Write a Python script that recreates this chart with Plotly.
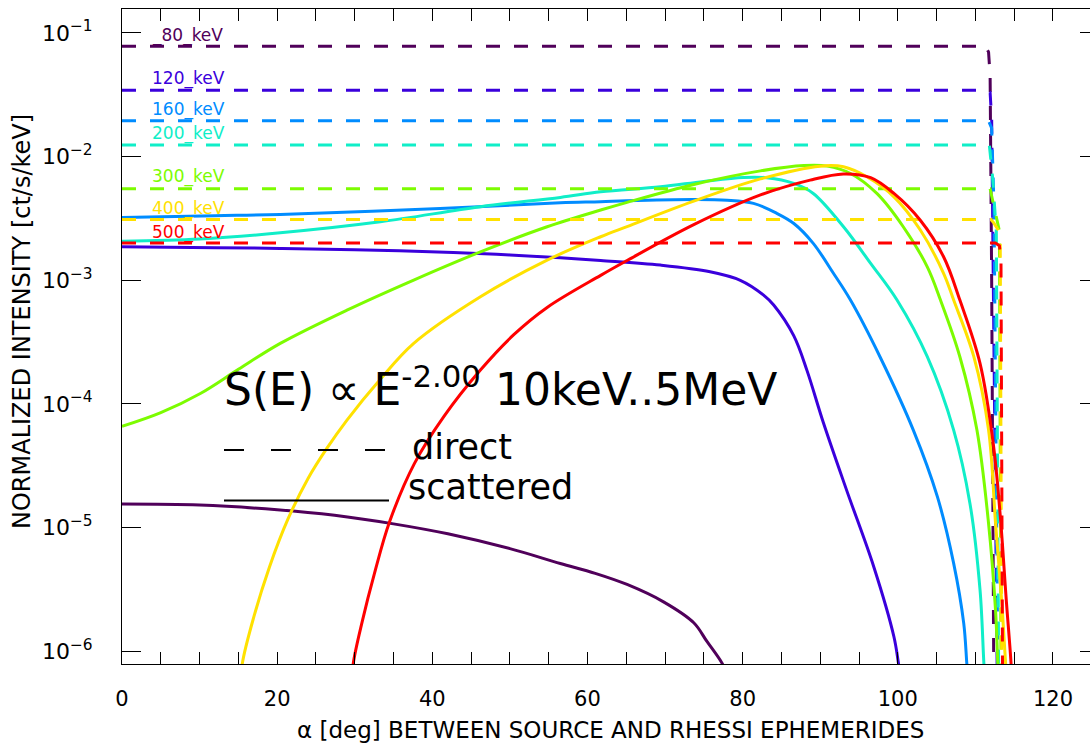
import plotly.graph_objects as go

# ---- data -------------------------------------------------------------
energies = ["80", "120", "160", "200", "300", "400", "500"]  # keV
colors = ["#50005A", "#3A00DC", "#008CFF", "#10EEC8", "#7CFC00", "#FFE100", "#FF0000"]

# direct (unscattered) intensity vs. angle
direct_x = {
    "80":  [0, 111.3, 111.7, 111.9, 112.1, 112.3, 112.4],
    "120": [0, 111.4, 111.9, 112.1, 112.8, 112.9],
    "160": [0, 111.7, 112.1, 112.4, 112.9, 113.0],
    "200": [0, 111.8, 112.2, 112.7, 113.0, 113.1],
    "300": [0, 111.9, 112.2, 113.1, 113.3, 113.4],
    "400": [0, 112.0, 112.4, 113.2, 113.4, 113.5],
    "500": [0, 112.6, 113.1, 113.3, 113.5, 113.6],
}
direct_y = {
    "80":  [0.078, 0.078, 0.070, 0.045, 1e-3, 8e-7, 3e-7],
    "120": [0.0345, 0.0345, 0.033, 0.020, 8e-7, 3e-7],
    "160": [0.0195, 0.0195, 0.017, 0.004, 7e-7, 3e-7],
    "200": [0.0124, 0.0124, 0.007, 0.0025, 7e-7, 3e-7],
    "300": [0.0055, 0.0055, 0.0045, 0.0025, 7e-7, 3e-7],
    "400": [0.0031, 0.0031, 0.0029, 0.0024, 7e-7, 3e-7],
    "500": [0.0020, 0.0020, 0.0019, 0.0015, 7e-7, 3e-7],
}

# scattered intensity vs. angle
scat_x = {
    "80":  [0, 10, 20, 27.4, 35, 42, 50, 56.5, 61, 65.1, 69.8, 73.7, 75.4, 77.4, 78.5],
    "120": [0, 12, 20.4, 30, 42.7, 50, 56.5, 61.7, 69.4, 75.8, 79.7, 82.7, 84, 86.6,
            88.3, 90.4, 93.4, 96.9, 99.5, 100.1, 100.6],
    "160": [0, 12, 20.4, 41.0, 56.5, 61.7, 65, 73.7, 78, 81.4, 84.4, 86.6, 89.1, 91.7,
            93.9, 97.7, 102, 105.1, 107.2, 108.5, 108.9, 109.2],
    "200": [0, 10, 20.4, 33.3, 46.2, 56.5, 61.7, 69.4, 75, 80.1, 83.1, 86.6, 89.1, 93,
            96.5, 99.9, 103.8, 107.2, 109.3, 110.6, 111.1, 111.4],
    "300": [0, 5, 10.1, 15, 20.4, 29, 37.6, 46.2, 54.8, 61.7, 65.1, 73.7, 82.3, 87.9,
            90.9, 93.9, 97.3, 100.7, 103.8, 105.5, 108, 110.2, 111.7, 112.6, 112.9, 113.2],
    "400": [15.3, 15.5, 17, 19, 21.4, 24, 26.4, 29, 33.3, 37.6, 46.2, 54.8, 61.7, 65.1,
            73.7, 82.3, 90, 93, 96, 99.5, 102.9, 105.9, 107.2, 109.8, 111.7, 112.6, 113.4,
            113.9, 114.1],
    "500": [29.6, 29.8, 31, 32.5, 34.5, 37.7, 41.5, 46.2, 50.5, 54.8, 61.7, 65.1, 73.7,
            82.3, 88.7, 93, 96.5, 99.5, 102.9, 105.9, 108, 110.6, 112.3, 113.2, 114.0,
            114.6, 114.8],
}
scat_y = {
    "80":  [1.549e-5, 1.52e-5, 1.396e-5, 1.259e-5, 1.072e-5, 8.91e-6, 6.76e-6, 5.13e-6,
            4.27e-6, 3.47e-6, 2.51e-6, 1.70e-6, 1.20e-6, 7.9e-7, 5.6e-7],
    "120": [1.866e-3, 1.837e-3, 1.811e-3, 1.77e-3, 1.679e-3, 1.603e-3, 1.52e-3, 1.445e-3,
            1.327e-3, 1.172e-3, 1.0e-3, 7.59e-4, 6.31e-4, 3.55e-4, 1.86e-4, 7.08e-5,
            2.01e-5, 4.83e-6, 1.31e-6, 7.9e-7, 5.0e-7],
    "160": [3.22e-3, 3.33e-3, 3.41e-3, 3.81e-3, 4.24e-3, 4.32e-3, 4.40e-3, 4.51e-3,
            4.45e-3, 4.19e-3, 3.48e-3, 2.88e-3, 1.99e-3, 1.14e-3, 6.92e-4, 2.41e-4,
            6.15e-5, 1.78e-5, 5.14e-6, 1.68e-6, 7.9e-7, 4.5e-7],
    "200": [2.07e-3, 2.16e-3, 2.42e-3, 2.97e-3, 3.94e-3, 4.68e-3, 5.19e-3, 5.70e-3,
            6.31e-3, 6.79e-3, 6.75e-3, 6.07e-3, 5.04e-3, 2.71e-3, 1.37e-3, 6.92e-4,
            2.41e-4, 6.15e-5, 1.57e-5, 3.13e-6, 7.9e-7, 4.0e-7],
    "300": [6.59e-5, 8.51e-5, 1.216e-4, 1.905e-4, 3.09e-4, 5.74e-4, 1.005e-3, 1.698e-3,
            2.71e-3, 3.70e-3, 4.27e-3, 5.96e-3, 7.67e-3, 8.47e-3, 8.38e-3, 7.31e-3,
            5.04e-3, 2.71e-3, 1.285e-3, 6.92e-4, 2.41e-4, 6.15e-5, 1.08e-5, 2.14e-6,
            7.9e-7, 4.0e-7],
    "400": [5.0e-7, 7.9e-7, 1.905e-6, 4.79e-6, 1.175e-5, 2.51e-5, 4.37e-5, 7.41e-5,
            1.585e-4, 3.09e-4, 7.36e-4, 1.455e-3, 2.25e-3, 2.72e-3, 4.37e-3, 6.61e-3,
            8.38e-3, 8.28e-3, 6.87e-3, 4.73e-3, 2.55e-3, 1.14e-3, 6.92e-4, 2.41e-4,
            6.15e-5, 1.08e-5, 2.51e-6, 7.9e-7, 4.0e-7],
    "500": [5.0e-7, 7.9e-7, 1.78e-6, 4.17e-6, 1.12e-5, 3.31e-5, 7.94e-5, 1.88e-4,
            3.63e-4, 6.03e-4, 1.096e-3, 1.445e-3, 2.818e-3, 4.90e-3, 6.46e-3, 7.24e-3,
            6.76e-3, 5.04e-3, 3.06e-3, 1.55e-3, 6.92e-4, 2.13e-4, 4.80e-5, 1.26e-5,
            2.51e-6, 7.9e-7, 4.0e-7],
}

x_ticks = [0, 20, 40, 60, 80, 100, 120]
y_tickvals = [1e-1, 1e-2, 1e-3, 1e-4, 1e-5, 1e-6]
y_ticktext = ["10<sup>\u22121</sup>", "10<sup>\u22122</sup>", "10<sup>\u22123</sup>",
              "10<sup>\u22124</sup>", "10<sup>\u22125</sup>", "10<sup>\u22126</sup>"]

# ---- figure -----------------------------------------------------------
W, H = 1090, 749
ML, MR, MT, MB = 122, 0, 9, 85
PW, PH = W - ML - MR, H - MT - MB
FONT = "DejaVu Sans, Verdana, sans-serif"


def px(xp):
    return (xp - ML) / PW


def py(yp):
    return (H - MB - yp) / PH


fig = go.Figure()
for e, c in zip(energies, colors):
    fig.add_trace(go.Scatter(x=direct_x[e], y=direct_y[e], mode="lines",
                             line=dict(color=c, width=3, dash="14px,14px"),
                             showlegend=False, hoverinfo="skip"))
    fig.add_trace(go.Scatter(x=scat_x[e], y=scat_y[e], mode="lines",
                             line=dict(color=c, width=3, shape="spline", smoothing=1.0),
                             showlegend=False, hoverinfo="skip"))

# invisible trace so the right-hand tick axis is drawn
fig.add_trace(go.Scatter(x=[None], y=[None], yaxis="y2", showlegend=False))

# energy labels next to the direct lines
label_y = [35, 79, 109, 133, 176.5, 208, 232]
annotations = []
for e, c, yl in zip(energies, colors, label_y):
    annotations.append(dict(text=f"_{e}_keV" if e == "80" else f"{e}_keV",
                            x=px(150), y=py(yl), xref="paper", yref="paper",
                            xanchor="left", yanchor="middle", showarrow=False,
                            font=dict(family=FONT, size=17, color=c)))

annotations += [
    dict(text="S(E) \u221d E<sup>-2.00</sup> 10keV..5MeV", x=px(222), y=py(386),
         xref="paper", yref="paper", xanchor="left", yanchor="middle",
         showarrow=False, font=dict(family=FONT, size=44, color="black")),
    dict(text="direct", x=px(410), y=py(447), xref="paper", yref="paper",
         xanchor="left", yanchor="middle", showarrow=False,
         font=dict(family=FONT, size=35, color="black")),
    dict(text="scattered", x=px(406), y=py(487), xref="paper", yref="paper",
         xanchor="left", yanchor="middle", showarrow=False,
         font=dict(family=FONT, size=35, color="black")),
    dict(text="\u03b1 [deg] BETWEEN SOURCE AND RHESSI EPHEMERIDES", x=px(610), y=py(730),
         xref="paper", yref="paper", xanchor="center", yanchor="middle",
         showarrow=False, font=dict(family=FONT, size=23, color="black")),
    dict(text="NORMALIZED INTENSITY [ct/s/keV]", x=px(22), y=py(322), textangle=-90,
         xref="paper", yref="paper", xanchor="center", yanchor="middle",
         showarrow=False, font=dict(family=FONT, size=24, color="black")),
]

shapes = [
    dict(type="line", xref="paper", yref="paper", x0=px(224), x1=px(389),
         y0=py(450), y1=py(450), line=dict(color="black", width=2, dash="20px,27px")),
    dict(type="line", xref="paper", yref="paper", x0=px(224), x1=px(389),
         y0=py(500.5), y1=py(500.5), line=dict(color="black", width=2)),
]

fig.update_layout(
    width=W, height=H,
    margin=dict(l=ML, r=MR, t=MT, b=MB, pad=0),
    paper_bgcolor="white", plot_bgcolor="white",
    font=dict(family=FONT, size=21, color="black"),
    annotations=annotations, shapes=shapes,
    xaxis=dict(range=[0, PW / 7.758], tickvals=x_ticks, ticks="inside", ticklen=12,
               tickwidth=1, tickcolor="black", showline=True, linecolor="black",
               linewidth=1, mirror="allticks", showgrid=False, zeroline=False,
               ticklabelstandoff=16, tickfont=dict(size=21),
               minor=dict(dtick=5, tick0=0, ticks="inside", ticklen=6, tickcolor="black",
                          showgrid=False)),
    yaxis=dict(type="log", range=[-6.103, -0.806], tickvals=y_tickvals,
               ticktext=y_ticktext, ticks="inside", ticklen=19, tickwidth=1,
               tickcolor="black", showline=True, linecolor="black", linewidth=1,
               mirror=False, showgrid=False, zeroline=False, ticklabelstandoff=24,
               tickfont=dict(size=22)),
    yaxis2=dict(type="log", range=[-6.103, -0.806], overlaying="y", side="right",
                tickvals=y_tickvals, ticks="inside", ticklen=10, tickwidth=1,
                tickcolor="black", showticklabels=False, showline=False,
                showgrid=False, zeroline=False),
)

fig.write_html("out.html")
